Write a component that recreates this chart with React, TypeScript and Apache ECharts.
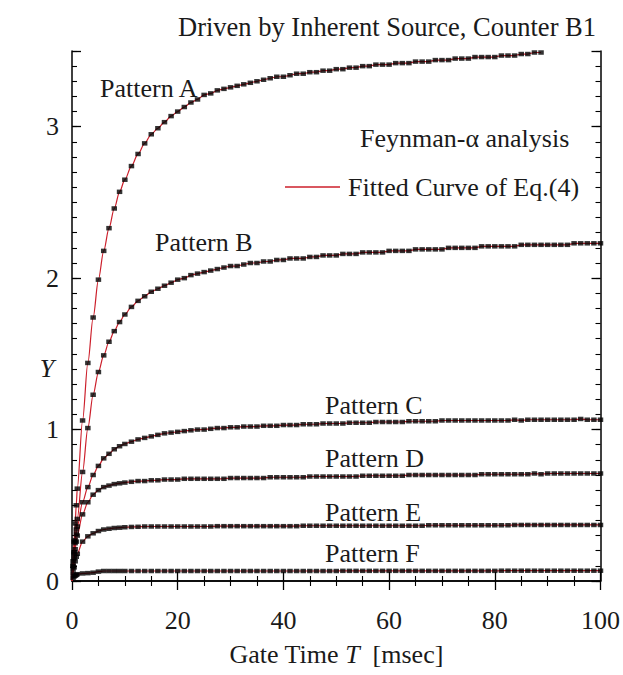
import React, { useEffect, useRef } from "react";
import * as echarts from "echarts";

// Gate time T [msec] of every measured point
const gateTime = [
  0.2, 0.4, 0.6, 0.8, 1, 2, 3, 4, 5, 6, 7, 8, 9, 10,
  11.25, 12.5, 13.75, 15, 16.25, 17.5, 18.75, 20,
  21.25, 22.5, 23.75, 25, 26.25, 27.5, 28.75, 30,
  31.25, 32.5, 33.75, 35, 36.25, 37.5, 38.75, 40,
  41.25, 42.5, 43.75, 45, 46.25, 47.5, 48.75, 50,
  51.25, 52.5, 53.75, 55, 56.25, 57.5, 58.75, 60,
  61.25, 62.5, 63.75, 65, 66.25, 67.5, 68.75, 70,
  71.25, 72.5, 73.75, 75, 76.25, 77.5, 78.75, 80,
  81.25, 82.5, 83.75, 85, 86.25, 87.5, 88.75, 90,
  91.25, 92.5, 93.75, 95, 96.25, 97.5, 98.75, 100,
];

const patternA = [
  0.13, 0.26, 0.38, 0.5, 0.61, 1.06, 1.44, 1.74, 1.99, 2.18, 2.33, 2.46, 2.57, 2.65,
  2.74, 2.82, 2.89, 2.95, 2.99, 3.03, 3.07, 3.1,
  3.13, 3.16, 3.18, 3.21, 3.22, 3.24, 3.25, 3.26,
  3.27, 3.28, 3.29, 3.3, 3.31, 3.32, 3.33, 3.33,
  3.34, 3.35, 3.35, 3.36, 3.36, 3.37, 3.37, 3.38,
  3.38, 3.39, 3.39, 3.4, 3.4, 3.41, 3.41, 3.41,
  3.42, 3.42, 3.42, 3.43, 3.43, 3.43, 3.44, 3.44,
  3.44, 3.45, 3.45, 3.45, 3.46, 3.46, 3.46, 3.46,
  3.47, 3.47, 3.47, 3.48, 3.48, 3.49, 3.49,
];

const patternB = [
  0.1, 0.19, 0.27, 0.34, 0.41, 0.72, 1.01, 1.23, 1.38, 1.49, 1.58, 1.65, 1.71, 1.76,
  1.81, 1.85, 1.88, 1.91, 1.93, 1.95, 1.97, 1.99,
  2.0, 2.02, 2.03, 2.04, 2.05, 2.06, 2.07, 2.08,
  2.08, 2.09, 2.1, 2.1, 2.11, 2.11, 2.12, 2.12,
  2.13, 2.13, 2.13, 2.14, 2.14, 2.15, 2.15, 2.15,
  2.16, 2.16, 2.16, 2.17, 2.17, 2.17, 2.17, 2.18,
  2.18, 2.18, 2.18, 2.19, 2.19, 2.19, 2.19, 2.19,
  2.2, 2.2, 2.2, 2.2, 2.2, 2.21, 2.21, 2.21,
  2.21, 2.21, 2.21, 2.22, 2.22, 2.22, 2.22, 2.22,
  2.22, 2.22, 2.22, 2.23, 2.23, 2.23, 2.23, 2.23,
];

const patternC = [
  0.1, 0.18, 0.25, 0.31, 0.36, 0.52, 0.62, 0.7, 0.76, 0.81, 0.84, 0.87, 0.89, 0.905,
  0.92, 0.935, 0.945, 0.955, 0.965, 0.975, 0.98, 0.985,
  0.99, 0.995, 1.0, 1.0, 1.005, 1.01, 1.01, 1.015,
  1.015, 1.02, 1.02, 1.02, 1.025, 1.025, 1.025, 1.03,
  1.03, 1.03, 1.035, 1.035, 1.035, 1.04, 1.04, 1.04,
  1.04, 1.045, 1.045, 1.045, 1.045, 1.05, 1.05, 1.05,
  1.05, 1.05, 1.055, 1.055, 1.055, 1.055, 1.055, 1.06,
  1.06, 1.06, 1.06, 1.06, 1.06, 1.06, 1.06, 1.06,
  1.06, 1.06, 1.065, 1.06, 1.065, 1.065, 1.065, 1.065,
  1.065, 1.065, 1.065, 1.065, 1.07, 1.065, 1.065, 1.065,
];

const patternD = [
  0.08, 0.15, 0.21, 0.26, 0.3, 0.44, 0.52, 0.57, 0.6, 0.62, 0.63, 0.64, 0.645, 0.65,
  0.655, 0.66, 0.66, 0.665, 0.665, 0.67, 0.67, 0.67,
  0.675, 0.675, 0.675, 0.675, 0.675, 0.675, 0.675, 0.68,
  0.68, 0.68, 0.68, 0.68, 0.68, 0.685, 0.685, 0.685,
  0.685, 0.685, 0.685, 0.69, 0.69, 0.69, 0.69, 0.69,
  0.69, 0.69, 0.69, 0.695, 0.695, 0.695, 0.695, 0.695,
  0.695, 0.695, 0.7, 0.7, 0.7, 0.7, 0.7, 0.7,
  0.7, 0.7, 0.7, 0.7, 0.7, 0.705, 0.705, 0.705,
  0.705, 0.705, 0.705, 0.705, 0.705, 0.71, 0.705, 0.71,
  0.71, 0.71, 0.71, 0.71, 0.71, 0.71, 0.71, 0.71,
];

const patternE = [
  0.05, 0.09, 0.13, 0.16, 0.18, 0.26, 0.295, 0.315, 0.33, 0.34, 0.345, 0.35, 0.352, 0.355,
  0.357, 0.358, 0.36, 0.36, 0.36, 0.36, 0.36, 0.36,
  0.36, 0.36, 0.36, 0.36, 0.36, 0.362, 0.362, 0.362,
  0.362, 0.362, 0.362, 0.362, 0.362, 0.362, 0.362, 0.362,
  0.362, 0.362, 0.365, 0.365, 0.365, 0.365, 0.365, 0.365,
  0.365, 0.365, 0.365, 0.365, 0.365, 0.365, 0.365, 0.365,
  0.365, 0.365, 0.365, 0.365, 0.365, 0.368, 0.368, 0.368,
  0.368, 0.368, 0.368, 0.368, 0.368, 0.368, 0.368, 0.368,
  0.368, 0.368, 0.37, 0.37, 0.37, 0.37, 0.37, 0.37,
  0.37, 0.37, 0.37, 0.37, 0.37, 0.37, 0.37, 0.37,
];

const patternF = [
  0.02, 0.03, 0.035, 0.04, 0.045, 0.05, 0.052, 0.055, 0.062, 0.066, 0.066, 0.066, 0.066, 0.066,
  0.066, 0.066, 0.066, 0.066, 0.066, 0.066, 0.066, 0.066,
  0.066, 0.066, 0.066, 0.066, 0.066, 0.066, 0.066, 0.066,
  0.066, 0.066, 0.066, 0.066, 0.066, 0.066, 0.066, 0.066,
  0.066, 0.066, 0.066, 0.066, 0.066, 0.066, 0.066, 0.066,
  0.067, 0.067, 0.067, 0.067, 0.067, 0.067, 0.067, 0.067,
  0.067, 0.067, 0.067, 0.067, 0.067, 0.067, 0.067, 0.067,
  0.067, 0.067, 0.067, 0.067, 0.067, 0.067, 0.067, 0.067,
  0.068, 0.068, 0.068, 0.068, 0.068, 0.068, 0.068, 0.068,
  0.068, 0.068, 0.068, 0.068, 0.068, 0.068, 0.068, 0.068,
];

const patternNames = ["Pattern A", "Pattern B", "Pattern C", "Pattern D", "Pattern E", "Pattern F"];
const patternValues = [patternA, patternB, patternC, patternD, patternE, patternF];

const xTicks = [0, 20, 40, 60, 80, 100];
const yTicks = [0, 1, 2, 3];

const FIT = "Fitted Curve of Eq.(4)";
const TITLE = "Driven by Inherent Source, Counter B1";
const NOTE = "Feynman-\u03b1 analysis";

const FONT = '"Liberation Serif", "Times New Roman", serif';
const TXT = "#1a1a1a";
const RED = "#cc1f2b";
const FS = 26;

// annotation label placement [left x, center y]
const labelPos: Record<string, [number, number]> = {
  "Pattern A": [100, 88],
  "Pattern B": [155, 242],
  "Pattern C": [325, 405],
  "Pattern D": [325, 458],
  "Pattern E": [325, 512],
  "Pattern F": [325, 553],
};

function textEl(text: string, x: number, y: number, align = "left", italic = false) {
  return {
    type: "text",
    x,
    y,
    silent: true,
    style: {
      text,
      fill: TXT,
      fontSize: FS,
      fontFamily: FONT,
      fontStyle: italic ? "italic" : "normal",
      align,
      verticalAlign: "middle",
      textAlign: align,
      textVerticalAlign: "middle",
    },
  };
}

function buildOption() {
  const series: any[] = [];
  patternNames.forEach((name, k) => {
    const pts = patternValues[k].map((v, i) => [gateTime[i], v]);
    series.push({
      type: "line",
      name: FIT,
      data: [[0, 0], ...pts],
      symbol: "none",
      smooth: 0.3,
      smoothMonotone: "x",
      lineStyle: { color: RED, width: 1.2 },
      itemStyle: { color: RED },
      z: 2,
      silent: true,
    });
    series.push({
      type: "scatter",
      name,
      data: pts,
      symbol: "rect",
      symbolSize: [5.5, 4.5],
      itemStyle: { color: "#000" },
      z: 3,
      silent: true,
    });
  });

  const axisLine = { show: true, lineStyle: { color: "#000", width: 1.5 } };
  const majorTick = { show: true, inside: true, length: 9, lineStyle: { color: "#000", width: 1.3 } };
  const minorTickAxis = { show: true, inside: true, length: 5, lineStyle: { color: "#000", width: 1.1 } };

  const xBase = {
    type: "value",
    min: xTicks[0],
    max: xTicks[xTicks.length - 1],
    interval: xTicks[1] - xTicks[0],
    splitLine: { show: false },
    axisLine,
    axisTick: majorTick,
    minorTick: { show: true, splitNumber: 4, length: 5, lineStyle: { color: "#000", width: 1.1 } },
    minorSplitLine: { show: false },
  };

  const yMajor = {
    type: "value",
    min: yTicks[0],
    max: 3.5,
    interval: yTicks[1] - yTicks[0],
    splitLine: { show: false },
    axisLine,
    axisTick: majorTick,
  };
  const yMinor = {
    type: "value",
    min: 0,
    max: 3.5,
    interval: 0.1,
    splitLine: { show: false },
    axisLine: { show: false },
    axisTick: minorTickAxis,
    axisLabel: { show: false },
  };

  return {
    animation: false,
    backgroundColor: "#fff",
    textStyle: { fontFamily: FONT },
    title: {
      text: TITLE,
      right: 22,
      top: 8,
      textStyle: { fontSize: 26.5, fontWeight: "normal", fontFamily: FONT, color: TXT },
    },
    legend: {
      data: [{ name: FIT, icon: "rect" }],
      left: 285,
      top: 174,
      padding: 0,
      itemWidth: 55,
      itemHeight: 1.4,
      itemGap: 0,
      textStyle: { fontSize: FS, fontFamily: FONT, color: TXT, padding: [0, 0, 0, 3] },
      selectedMode: false,
    },
    grid: { left: 72, right: 22, top: 51, bottom: 94, containLabel: false },
    xAxis: [
      {
        ...xBase,
        position: "bottom",
        name: "{n|Gate Time }{i|T}{n|  [msec]}",
        nameLocation: "middle",
        nameGap: 60,
        nameTextStyle: {
          color: TXT,
          rich: {
            n: { fontSize: FS, fontFamily: FONT, color: TXT },
            i: { fontSize: FS, fontFamily: FONT, color: TXT, fontStyle: "italic" },
          },
        },
        axisLabel: { show: true, margin: 26, fontSize: FS, fontFamily: FONT, color: TXT },
      },
      { ...xBase, position: "top", axisLabel: { show: false } },
    ],
    yAxis: [
      {
        ...yMajor,
        position: "left",
        axisLabel: {
          show: true,
          margin: 13,
          fontSize: FS,
          fontFamily: FONT,
          color: TXT,
          formatter: (v: number) => (yTicks.includes(v) ? String(v) : ""),
        },
      },
      { ...yMinor, position: "left" },
      { ...yMajor, position: "right", axisLabel: { show: false } },
      { ...yMinor, position: "right" },
    ],
    graphic: [
      ...patternNames.map((n) => textEl(n, labelPos[n][0], labelPos[n][1])),
      textEl(NOTE, 360, 138),
      textEl("Y", 47, 368, "center", true),
    ],
    series,
  };
}

export default function App() {
  const ref = useRef<HTMLDivElement>(null);
  useEffect(() => {
    if (!ref.current) return;
    const chart = echarts.init(ref.current, null, { renderer: "svg" });
    chart.setOption(buildOption() as any);
    return () => chart.dispose();
  }, []);
  return (
    <div
      ref={ref}
      style={{ position: "fixed", left: 0, top: 0, width: 623, height: 675, background: "#fff" }}
    />
  );
}
